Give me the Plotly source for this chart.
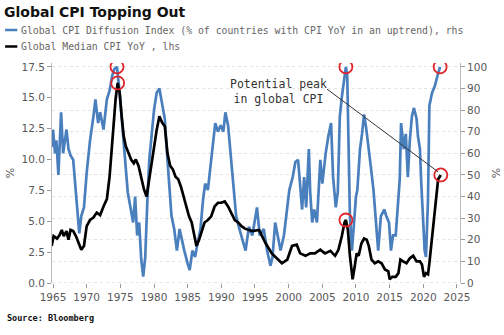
import plotly.graph_objects as go
import numpy as np

# Global CPI Diffusion Index (% of countries with CPI YoY in an uptrend), rhs
diff_years = [1964.8, 1965.0, 1965.3, 1965.5, 1965.8, 1966.0, 1966.2, 1966.5, 1966.8, 1967.0,
              1967.3, 1967.6, 1968.0, 1968.3, 1968.6, 1968.9, 1969.2, 1969.6, 1970.0, 1970.5,
              1971.0, 1971.3, 1971.7, 1972.0, 1972.5, 1973.0, 1973.4, 1973.8, 1974.1, 1974.5,
              1974.9, 1975.2, 1975.5, 1975.8, 1976.1, 1976.5, 1976.9, 1977.2, 1977.5, 1977.8,
              1978.1, 1978.4, 1978.7, 1979.0, 1979.3, 1979.7, 1980.0, 1980.4, 1980.8, 1981.2,
              1981.6, 1982.0, 1982.3, 1982.6, 1983.0, 1983.4, 1983.8, 1984.2, 1984.5, 1985.0,
              1985.3, 1985.7, 1986.1, 1986.5, 1986.9, 1987.3, 1987.6, 1988.0, 1988.4, 1988.8,
              1989.1, 1989.5, 1989.9, 1990.3, 1990.6, 1991.0, 1991.4, 1991.8, 1992.2, 1992.6,
              1993.1, 1993.6, 1994.1, 1994.6, 1995.3, 1995.7, 1996.3, 1996.8, 1997.3, 1997.6,
              1998.0, 1998.4, 1998.8, 1999.3, 1999.8, 2000.1, 2000.6, 2001.0, 2001.4, 2001.7,
              2002.0, 2002.3, 2002.6, 2003.0, 2003.2, 2003.5, 2003.8, 2004.2, 2004.7, 2005.0,
              2005.5, 2005.9, 2006.3, 2006.6, 2007.0, 2007.3, 2007.6, 2007.9, 2008.3, 2008.5,
              2008.7, 2008.9, 2009.1, 2009.4, 2009.6, 2010.0, 2010.2, 2010.6, 2010.9, 2011.2,
              2011.5, 2011.8, 2012.2, 2012.6, 2012.9, 2013.3, 2013.7, 2014.2, 2014.5, 2014.9,
              2015.2, 2015.5, 2015.9, 2016.2, 2016.5, 2016.7, 2017.1, 2017.4, 2017.7, 2018.0,
              2018.3, 2018.6, 2019.0, 2019.2, 2019.5, 2019.7, 2020.0, 2020.2, 2020.4, 2020.7,
              2020.9, 2021.3, 2021.7, 2021.9, 2022.2, 2022.5]
diff_values = [63, 71, 60, 66, 50, 62, 79, 60, 68, 71,
               62, 59, 57, 46, 35, 23, 31, 35, 51, 66,
               77, 85, 74, 79, 71, 85, 89, 96, 99, 100,
               88, 77, 65, 54, 42, 35, 28, 40, 22, 28,
               11, 3, 12, 37, 57, 70, 80, 88, 90, 83,
               76, 57, 43, 31, 25, 15, 25, 19, 15, 9,
               6, 15, 12, 19, 25, 39, 46, 43, 54, 65,
               74, 70, 73, 70, 79, 73, 59, 43, 31, 26,
               20, 15, 26, 22, 35, 22, 25, 15, 8, 12,
               28, 22, 15, 22, 35, 43, 49, 56, 57, 43,
               34, 49, 35, 62, 42, 28, 34, 28, 57, 46,
               60, 68, 74, 49, 35, 42, 77, 86, 94, 100,
               96, 62, 31, 15, 25, 40, 43, 62, 69, 78,
               72, 63, 54, 43, 31, 15, 31, 34, 31, 28,
               15, 22, 22, 34, 48, 74, 62, 69, 49, 66,
               77, 81, 76, 68, 62, 46, 26, 15, 12, 39,
               82, 88, 91, 94, 97, 100]

# Global Median CPI YoY, lhs (%)
cpi_years = [1964.8, 1965.1, 1965.6, 1966.0, 1966.3, 1966.6, 1967.0, 1967.3, 1967.6, 1968.0,
             1968.4, 1968.8, 1969.2, 1969.6, 1970.0, 1970.5, 1971.0, 1971.5, 1972.0, 1972.5,
             1973.0, 1973.4, 1973.7, 1974.0, 1974.3, 1974.6, 1974.9, 1975.2, 1975.5, 1975.8,
             1976.2, 1976.6, 1977.0, 1977.3, 1977.7, 1978.1, 1978.5, 1978.9, 1979.2, 1979.6,
             1980.0, 1980.4, 1980.8, 1981.2, 1981.6, 1982.0, 1982.4, 1982.8, 1983.2, 1983.6,
             1984.0, 1984.4, 1984.8, 1985.2, 1985.6, 1986.0, 1986.3, 1986.7, 1987.1, 1987.5,
             1988.0, 1988.5, 1989.0, 1989.5, 1990.0, 1990.5, 1991.0, 1991.5, 1992.0, 1992.5,
             1993.0, 1993.5, 1994.0, 1994.6, 1995.6, 1996.6, 1997.5, 1998.3, 1999.0, 1999.8,
             2000.5, 2001.2, 2001.7, 2002.5, 2003.2, 2003.9, 2004.7, 2005.4, 2006.2, 2006.9,
             2007.4, 2007.9, 2008.3, 2008.5, 2008.8, 2009.1, 2009.5, 2009.8, 2010.1, 2010.4,
             2010.8, 2011.2, 2011.6, 2011.9, 2012.3, 2012.8, 2013.3, 2013.8, 2014.3, 2014.8,
             2015.0, 2015.4, 2015.9, 2016.3, 2016.6, 2017.0, 2017.5, 2018.0, 2018.5, 2019.0,
             2019.5, 2019.8, 2020.1, 2020.4, 2020.7, 2020.9, 2021.3, 2021.7, 2021.9, 2022.2,
             2022.6]
cpi_values = [3.0, 3.8, 3.6, 3.9, 4.3, 3.8, 4.2, 3.5, 4.3, 4.2,
              3.8, 3.2, 2.7, 3.0, 4.6, 5.1, 5.3, 5.7, 5.5, 6.2,
              6.8, 8.6, 10.8, 13.0, 14.9, 16.2, 15.4, 13.5, 11.9, 11.1,
              10.5, 10.0, 9.7, 10.0, 9.5, 8.6, 7.6, 7.0, 8.1, 9.5,
              10.8, 12.4, 13.5, 13.0, 12.7, 10.5, 9.5, 9.2, 8.6, 8.4,
              7.8, 7.0, 6.2, 5.4, 4.9, 3.8, 3.0, 3.5, 4.3, 4.9,
              5.1, 5.4, 6.2, 6.5, 6.5, 6.6, 6.2, 5.7, 5.1, 4.9,
              4.6, 4.4, 4.3, 4.2, 4.3, 3.2, 2.4, 2.0, 1.6, 1.9,
              3.0, 3.1, 2.4, 2.2, 2.4, 2.4, 2.7, 2.4, 2.6, 2.2,
              2.7, 3.8, 4.9, 5.1, 4.3, 2.2, 0.3, 1.3, 2.4, 2.2,
              3.2, 3.6, 3.5, 3.0, 1.9, 1.6, 1.75, 1.6, 1.1, 0.95,
              0.3, 0.5, 0.5, 0.8, 1.9, 1.75, 1.6, 2.0, 2.2, 1.75,
              1.75, 1.5, 0.5, 0.8, 0.7, 1.6, 3.8, 5.4, 7.0, 8.4,
              8.75]

x_ticks = [1965, 1970, 1975, 1980, 1985, 1990, 1995, 2000, 2005, 2010, 2015, 2020, 2025]
left_ticks = [0.0, 2.5, 5.0, 7.5, 10.0, 12.5, 15.0, 17.5]
right_ticks = [0, 10, 20, 30, 40, 50, 60, 70, 80, 90, 100]

BLUE = "#4a7fbe"
RED = "#e0242a"
GREY = "#595959"

dy = np.array(diff_years); dv = np.array(diff_values)
cy = np.array(cpi_years); cv = np.array(cpi_values)

# highlighted peaks: diffusion index hitting 100, CPI local peaks in the same episodes
blue_pk = dv == 100
cpi_pk_idx = [int(np.argmax(np.where((cy > a) & (cy < b), cv, -1))) for a, b in
              [(1972, 1977), (2007, 2010), (2021, 2023)]]

fig = go.Figure()
fig.add_trace(go.Scatter(x=dy, y=dv, mode="lines", line=dict(color=BLUE, width=2.7),
                         yaxis="y", name="diffusion", showlegend=False))
fig.add_trace(go.Scatter(x=dy[blue_pk], y=dv[blue_pk], mode="markers",
                         marker=dict(symbol="circle-open", size=13, color=RED, line=dict(width=1.8, color=RED)),
                         yaxis="y", showlegend=False))
fig.add_trace(go.Scatter(x=cy, y=cv, mode="lines", line=dict(color="#000000", width=2.7),
                         yaxis="y2", name="cpi", showlegend=False))
fig.add_trace(go.Scatter(x=cy[cpi_pk_idx], y=cv[cpi_pk_idx], mode="markers",
                         marker=dict(symbol="circle-open", size=13, color=RED, line=dict(width=1.8, color=RED)),
                         yaxis="y2", showlegend=False))

tickfont = dict(family="DejaVu Sans", size=10.5, color=GREY)
fig.update_layout(
    width=504, height=335,
    margin=dict(l=52, r=44, t=63, b=52),
    paper_bgcolor="white", plot_bgcolor="white",
    xaxis=dict(range=[1964.85, 2025.45], tickvals=x_ticks, ticks="outside", ticklen=4,
               tickcolor="#999", showline=False, showgrid=False, zeroline=False,
               tickfont=tickfont, automargin=False),
    yaxis=dict(side="right", range=[0, 101.8], tickvals=right_ticks, ticks="outside", ticklen=4,
               tickcolor="#999", showline=True, linecolor="#bbb", linewidth=1,
               showgrid=True, gridcolor="#e4e4e4", griddash="dot", zeroline=False,
               tickfont=tickfont, automargin=False,
               title=dict(text="%", font=dict(family="DejaVu Sans", size=11, color=GREY), standoff=6)),
    yaxis2=dict(side="left", overlaying="y", range=[0, 17.815], tickvals=left_ticks,
                tickformat=".1f", ticks="outside", ticklen=4, tickcolor="#999",
                showline=True, linecolor="#bbb", linewidth=1, showgrid=False, zeroline=False,
                tickfont=tickfont, automargin=False,
                title=dict(text="%", font=dict(family="DejaVu Sans", size=11, color=GREY), standoff=4)),
)

# horizontal zero gridline (dotted)
fig.add_shape(type="line", xref="paper", yref="y", x0=0, x1=1, y0=0, y1=0,
              line=dict(color="#cccccc", width=1, dash="dot"))

# title
fig.add_annotation(text="<b>Global CPI Topping Out</b>", xref="paper", yref="paper",
                   x=-0.123, y=1.232, xanchor="left", yanchor="middle", showarrow=False,
                   font=dict(family="DejaVu Sans", size=14, color="#111"))
# legend (drawn manually)
leg_font = dict(family="DejaVu Sans Mono", size=9.8, color="#666")
for yy, col, txt in [(1.15, BLUE, "Global CPI Diffusion Index (% of countries with CPI YoY in an uptrend), rhs"),
                     (1.075, "#000000", "Global Median CPI YoY , lhs")]:
    fig.add_shape(type="line", xref="paper", yref="paper", x0=-0.115, x1=-0.085, y0=yy, y1=yy,
                  line=dict(color=col, width=2.5))
    fig.add_annotation(text=txt, xref="paper", yref="paper", x=-0.08, y=yy, xanchor="left",
                       yanchor="middle", showarrow=False, font=leg_font)

# callout
fig.add_annotation(text="Potential peak<br>in global CPI", xref="x", yref="y2",
                   x=1998.5, y=15.5, xanchor="center", yanchor="middle", showarrow=False,
                   font=dict(family="DejaVu Sans Mono", size=11.5, color="#333"))
fig.add_shape(type="line", xref="x", yref="y2", x0=2005.7, y0=15.7, x1=2022.2, y1=9.0,
              line=dict(color="#333", width=1))

# source
fig.add_annotation(text="<b>Source: Bloomberg</b>", xref="paper", yref="paper",
                   x=-0.115, y=-0.16, xanchor="left", yanchor="middle", showarrow=False,
                   font=dict(family="DejaVu Sans Mono", size=8.5, color="#111"))

fig.write_html("out.html")
